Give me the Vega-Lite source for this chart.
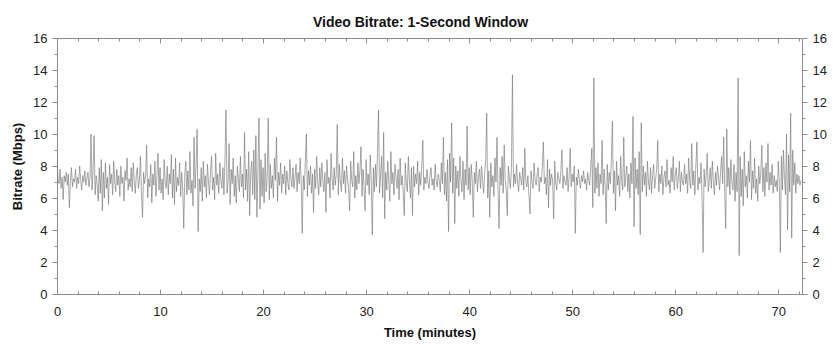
{
"$schema": "https://vega.github.io/schema/vega-lite/v6.json",
"autosize": {"type": "none"},
"padding": {"left": 57, "top": 38, "right": 38, "bottom": 58},
"width": 745,
"height": 256,
"background": "white",
"title": {"text": "Video Bitrate: 1-Second Window", "font": "Liberation Sans", "fontSize": 14, "fontWeight": "bold", "color": "#111111", "anchor": "middle", "dx": -9, "dy": 20, "offset": 11, "baseline": "alphabetic"},
"config": {
  "view": {"stroke": null},
  "axis": {"grid": false, "domainColor": "#8c8c8c", "tickColor": "#8c8c8c", "labelColor": "#222222", "labelFont": "Liberation Sans", "labelFontSize": 13, "titleFont": "Liberation Sans", "titleFontSize": 13, "titleFontWeight": "bold", "titleColor": "#111111", "labelFlush": false, "labelOverlap": false, "labelBound": false}
},
"data": {"values": [
{"t":0,"b":8.6},{"t":0.1,"b":7.2},{"t":0.2,"b":6.9},{"t":0.3,"b":7.8},{"t":0.4,"b":6.6},{"t":0.5,"b":7.3},{"t":0.6,"b":5.9},{"t":0.7,"b":7.4},{"t":0.8,"b":7.0},{"t":0.9,"b":7.6},
{"t":1,"b":6.8},{"t":1.1,"b":7.5},{"t":1.2,"b":5.4},{"t":1.3,"b":7.1},{"t":1.4,"b":7.9},{"t":1.5,"b":6.7},{"t":1.6,"b":7.2},{"t":1.7,"b":7.0},{"t":1.8,"b":7.8},{"t":1.9,"b":6.6},
{"t":2,"b":7.3},{"t":2.1,"b":6.9},{"t":2.2,"b":8.0},{"t":2.3,"b":7.1},{"t":2.4,"b":6.5},{"t":2.5,"b":7.4},{"t":2.6,"b":7.0},{"t":2.7,"b":7.7},{"t":2.8,"b":6.8},{"t":2.9,"b":7.2},
{"t":3,"b":7.6},{"t":3.1,"b":6.7},{"t":3.2,"b":7.3},{"t":3.3,"b":10.0},{"t":3.4,"b":6.5},{"t":3.5,"b":7.8},{"t":3.6,"b":9.9},{"t":3.7,"b":6.2},{"t":3.8,"b":7.4},{"t":3.9,"b":6.8},
{"t":4,"b":5.8},{"t":4.1,"b":7.9},{"t":4.2,"b":6.3},{"t":4.3,"b":8.4},{"t":4.4,"b":5.2},{"t":4.5,"b":7.6},{"t":4.6,"b":6.0},{"t":4.7,"b":8.2},{"t":4.8,"b":6.6},{"t":4.9,"b":7.3},
{"t":5,"b":5.6},{"t":5.1,"b":8.1},{"t":5.2,"b":6.9},{"t":5.3,"b":7.5},{"t":5.4,"b":6.2},{"t":5.5,"b":8.3},{"t":5.6,"b":7.0},{"t":5.7,"b":6.4},{"t":5.8,"b":7.8},{"t":5.9,"b":6.8},
{"t":6,"b":7.4},{"t":6.1,"b":6.1},{"t":6.2,"b":8.0},{"t":6.3,"b":6.9},{"t":6.4,"b":7.3},{"t":6.5,"b":5.8},{"t":6.6,"b":7.7},{"t":6.7,"b":7.1},{"t":6.8,"b":8.5},{"t":6.9,"b":6.5},
{"t":7,"b":7.2},{"t":7.1,"b":6.7},{"t":7.2,"b":7.9},{"t":7.3,"b":6.4},{"t":7.4,"b":8.2},{"t":7.5,"b":7.0},{"t":7.6,"b":6.3},{"t":7.7,"b":7.5},{"t":7.8,"b":7.9},{"t":7.9,"b":6.6},
{"t":8,"b":7.1},{"t":8.1,"b":8.6},{"t":8.2,"b":6.2},{"t":8.3,"b":4.8},{"t":8.4,"b":7.6},{"t":8.5,"b":6.9},{"t":8.6,"b":7.4},{"t":8.7,"b":9.3},{"t":8.8,"b":6.0},{"t":8.9,"b":7.2},
{"t":9,"b":6.7},{"t":9.1,"b":8.1},{"t":9.2,"b":5.7},{"t":9.3,"b":7.5},{"t":9.4,"b":6.8},{"t":9.5,"b":8.3},{"t":9.6,"b":6.1},{"t":9.7,"b":7.4},{"t":9.8,"b":8.8},{"t":9.9,"b":6.5},
{"t":10,"b":7.9},{"t":10.1,"b":6.3},{"t":10.2,"b":7.2},{"t":10.3,"b":5.9},{"t":10.4,"b":8.4},{"t":10.5,"b":7.0},{"t":10.6,"b":6.6},{"t":10.7,"b":8.0},{"t":10.8,"b":6.2},{"t":10.9,"b":7.5},
{"t":11,"b":6.9},{"t":11.1,"b":8.7},{"t":11.2,"b":6.0},{"t":11.3,"b":7.8},{"t":11.4,"b":5.6},{"t":11.5,"b":8.5},{"t":11.6,"b":6.4},{"t":11.7,"b":7.3},{"t":11.8,"b":6.8},{"t":11.9,"b":8.2},
{"t":12,"b":6.1},{"t":12.1,"b":7.6},{"t":12.2,"b":6.7},{"t":12.3,"b":4.1},{"t":12.4,"b":7.4},{"t":12.5,"b":8.3},{"t":12.6,"b":6.2},{"t":12.7,"b":7.7},{"t":12.8,"b":6.5},{"t":12.9,"b":8.9},
{"t":13,"b":6.3},{"t":13.1,"b":7.1},{"t":13.2,"b":5.5},{"t":13.3,"b":9.8},{"t":13.4,"b":6.6},{"t":13.5,"b":8.0},{"t":13.6,"b":10.3},{"t":13.7,"b":3.9},{"t":13.8,"b":7.2},{"t":13.9,"b":6.4},
{"t":14,"b":7.9},{"t":14.1,"b":5.8},{"t":14.2,"b":8.3},{"t":14.3,"b":6.7},{"t":14.4,"b":7.4},{"t":14.5,"b":6.0},{"t":14.6,"b":8.1},{"t":14.7,"b":7.0},{"t":14.8,"b":6.2},{"t":14.9,"b":7.7},
{"t":15,"b":8.6},{"t":15.1,"b":6.5},{"t":15.2,"b":7.3},{"t":15.3,"b":5.9},{"t":15.4,"b":8.8},{"t":15.5,"b":6.8},{"t":15.6,"b":7.5},{"t":15.7,"b":6.3},{"t":15.8,"b":8.2},{"t":15.9,"b":7.1},
{"t":16,"b":6.6},{"t":16.1,"b":7.9},{"t":16.2,"b":6.2},{"t":16.3,"b":8.4},{"t":16.4,"b":11.5},{"t":16.5,"b":6.3},{"t":16.6,"b":7.0},{"t":16.7,"b":9.4},{"t":16.8,"b":5.6},{"t":16.9,"b":7.8},
{"t":17,"b":6.9},{"t":17.1,"b":8.5},{"t":17.2,"b":6.1},{"t":17.3,"b":7.4},{"t":17.4,"b":5.7},{"t":17.5,"b":8.0},{"t":17.6,"b":7.2},{"t":17.7,"b":6.4},{"t":17.8,"b":8.6},{"t":17.9,"b":6.7},
{"t":18,"b":7.5},{"t":18.1,"b":6.0},{"t":18.2,"b":10.1},{"t":18.3,"b":6.5},{"t":18.4,"b":7.8},{"t":18.5,"b":5.8},{"t":18.6,"b":8.9},{"t":18.7,"b":4.9},{"t":18.8,"b":7.6},{"t":18.9,"b":8.3},
{"t":19,"b":6.2},{"t":19.1,"b":9.0},{"t":19.2,"b":5.9},{"t":19.3,"b":9.9},{"t":19.4,"b":4.8},{"t":19.5,"b":7.7},{"t":19.6,"b":11.0},{"t":19.7,"b":5.3},{"t":19.8,"b":8.4},{"t":19.9,"b":6.1},
{"t":20,"b":7.9},{"t":20.1,"b":5.7},{"t":20.2,"b":8.8},{"t":20.3,"b":6.4},{"t":20.4,"b":7.3},{"t":20.5,"b":11.0},{"t":20.6,"b":5.9},{"t":20.7,"b":8.1},{"t":20.8,"b":6.6},{"t":20.9,"b":7.4},
{"t":21,"b":6.0},{"t":21.1,"b":8.5},{"t":21.2,"b":7.1},{"t":21.3,"b":9.8},{"t":21.4,"b":5.8},{"t":21.5,"b":7.6},{"t":21.6,"b":6.8},{"t":21.7,"b":8.2},{"t":21.8,"b":6.3},{"t":21.9,"b":7.5},
{"t":22,"b":6.9},{"t":22.1,"b":8.0},{"t":22.2,"b":6.2},{"t":22.3,"b":7.7},{"t":22.4,"b":7.0},{"t":22.5,"b":6.5},{"t":22.6,"b":8.4},{"t":22.7,"b":7.2},{"t":22.8,"b":6.7},{"t":22.9,"b":7.9},
{"t":23,"b":6.6},{"t":23.1,"b":7.3},{"t":23.2,"b":8.1},{"t":23.3,"b":6.4},{"t":23.4,"b":7.6},{"t":23.5,"b":6.9},{"t":23.6,"b":8.5},{"t":23.7,"b":7.0},{"t":23.8,"b":3.8},{"t":23.9,"b":7.4},
{"t":24,"b":6.5},{"t":24.1,"b":8.3},{"t":24.2,"b":10.0},{"t":24.3,"b":6.1},{"t":24.4,"b":7.7},{"t":24.5,"b":6.8},{"t":24.6,"b":8.0},{"t":24.7,"b":6.3},{"t":24.8,"b":7.5},{"t":24.9,"b":5.1},
{"t":25,"b":7.8},{"t":25.1,"b":6.6},{"t":25.2,"b":8.6},{"t":25.3,"b":7.0},{"t":25.4,"b":6.2},{"t":25.5,"b":7.9},{"t":25.6,"b":6.7},{"t":25.7,"b":8.2},{"t":25.8,"b":7.1},{"t":25.9,"b":6.4},
{"t":26,"b":7.6},{"t":26.1,"b":5.1},{"t":26.2,"b":8.4},{"t":26.3,"b":6.9},{"t":26.4,"b":7.3},{"t":26.5,"b":6.0},{"t":26.6,"b":8.8},{"t":26.7,"b":7.2},{"t":26.8,"b":6.5},{"t":26.9,"b":7.9},
{"t":27,"b":6.8},{"t":27.1,"b":7.5},{"t":27.2,"b":10.6},{"t":27.3,"b":6.2},{"t":27.4,"b":8.1},{"t":27.5,"b":7.0},{"t":27.6,"b":6.4},{"t":27.7,"b":8.5},{"t":27.8,"b":6.9},{"t":27.9,"b":7.7},
{"t":28,"b":6.3},{"t":28.1,"b":8.0},{"t":28.2,"b":7.2},{"t":28.3,"b":6.6},{"t":28.4,"b":5.2},{"t":28.5,"b":8.3},{"t":28.6,"b":7.1},{"t":28.7,"b":6.7},{"t":28.8,"b":8.9},{"t":28.9,"b":6.0},
{"t":29,"b":7.4},{"t":29.1,"b":6.5},{"t":29.2,"b":8.2},{"t":29.3,"b":6.9},{"t":29.4,"b":7.7},{"t":29.5,"b":9.2},{"t":29.6,"b":6.1},{"t":29.7,"b":7.8},{"t":29.8,"b":6.6},{"t":29.9,"b":5.2},
{"t":30,"b":8.4},{"t":30.1,"b":6.8},{"t":30.2,"b":7.5},{"t":30.3,"b":6.2},{"t":30.4,"b":8.7},{"t":30.5,"b":7.0},{"t":30.6,"b":3.7},{"t":30.7,"b":7.9},{"t":30.8,"b":6.4},{"t":30.9,"b":8.1},
{"t":31,"b":6.7},{"t":31.1,"b":8.8},{"t":31.2,"b":11.5},{"t":31.3,"b":6.3},{"t":31.4,"b":7.4},{"t":31.5,"b":8.6},{"t":31.6,"b":6.0},{"t":31.7,"b":10.1},{"t":31.8,"b":4.7},{"t":31.9,"b":7.6},
{"t":32,"b":6.5},{"t":32.1,"b":8.3},{"t":32.2,"b":7.0},{"t":32.3,"b":5.8},{"t":32.4,"b":8.9},{"t":32.5,"b":6.9},{"t":32.6,"b":7.6},{"t":32.7,"b":6.2},{"t":32.8,"b":8.1},{"t":32.9,"b":7.3},
{"t":33,"b":6.6},{"t":33.1,"b":7.8},{"t":33.2,"b":5.9},{"t":33.3,"b":8.5},{"t":33.4,"b":6.8},{"t":33.5,"b":7.4},{"t":33.6,"b":6.3},{"t":33.7,"b":4.9},{"t":33.8,"b":8.2},{"t":33.9,"b":7.0},
{"t":34,"b":6.4},{"t":34.1,"b":8.6},{"t":34.2,"b":7.1},{"t":34.3,"b":6.0},{"t":34.4,"b":7.9},{"t":34.5,"b":4.9},{"t":34.6,"b":8.0},{"t":34.7,"b":6.7},{"t":34.8,"b":7.5},{"t":34.9,"b":6.9},
{"t":35,"b":8.3},{"t":35.1,"b":6.2},{"t":35.2,"b":7.6},{"t":35.3,"b":6.8},{"t":35.4,"b":8.0},{"t":35.5,"b":9.6},{"t":35.6,"b":6.5},{"t":35.7,"b":7.3},{"t":35.8,"b":6.9},{"t":35.9,"b":7.8},
{"t":36,"b":7.0},{"t":36.1,"b":6.6},{"t":36.2,"b":7.4},{"t":36.3,"b":7.9},{"t":36.4,"b":6.8},{"t":36.5,"b":7.2},{"t":36.6,"b":6.5},{"t":36.7,"b":8.1},{"t":36.8,"b":7.0},{"t":36.9,"b":6.7},
{"t":37,"b":7.5},{"t":37.1,"b":7.1},{"t":37.2,"b":6.4},{"t":37.3,"b":8.2},{"t":37.4,"b":6.9},{"t":37.5,"b":9.8},{"t":37.6,"b":6.2},{"t":37.7,"b":7.6},{"t":37.8,"b":5.8},{"t":37.9,"b":8.4},
{"t":38,"b":3.9},{"t":38.1,"b":8.8},{"t":38.2,"b":7.0},{"t":38.3,"b":10.7},{"t":38.4,"b":6.3},{"t":38.5,"b":8.5},{"t":38.6,"b":4.4},{"t":38.7,"b":8.0},{"t":38.8,"b":6.6},{"t":38.9,"b":7.7},
{"t":39,"b":6.1},{"t":39.1,"b":8.6},{"t":39.2,"b":7.2},{"t":39.3,"b":6.4},{"t":39.4,"b":8.3},{"t":39.5,"b":5.9},{"t":39.6,"b":7.8},{"t":39.7,"b":6.8},{"t":39.8,"b":10.5},{"t":39.9,"b":6.5},
{"t":40,"b":7.9},{"t":40.1,"b":6.2},{"t":40.2,"b":8.1},{"t":40.3,"b":7.0},{"t":40.4,"b":4.8},{"t":40.5,"b":7.6},{"t":40.6,"b":6.9},{"t":40.7,"b":8.3},{"t":40.8,"b":6.4},{"t":40.9,"b":7.3},
{"t":41,"b":7.8},{"t":41.1,"b":6.6},{"t":41.2,"b":8.0},{"t":41.3,"b":7.1},{"t":41.4,"b":6.3},{"t":41.5,"b":7.5},{"t":41.6,"b":8.4},{"t":41.7,"b":11.3},{"t":41.8,"b":6.0},{"t":41.9,"b":7.7},
{"t":42,"b":4.8},{"t":42.1,"b":8.2},{"t":42.2,"b":6.7},{"t":42.3,"b":7.4},{"t":42.4,"b":6.1},{"t":42.5,"b":8.5},{"t":42.6,"b":7.0},{"t":42.7,"b":9.8},{"t":42.8,"b":6.4},{"t":42.9,"b":4.1},
{"t":43,"b":7.9},{"t":43.1,"b":6.8},{"t":43.2,"b":8.6},{"t":43.3,"b":6.3},{"t":43.4,"b":9.3},{"t":43.5,"b":7.1},{"t":43.6,"b":6.5},{"t":43.7,"b":4.9},{"t":43.8,"b":8.0},{"t":43.9,"b":7.2},
{"t":44,"b":6.6},{"t":44.1,"b":7.8},{"t":44.2,"b":13.7},{"t":44.3,"b":6.7},{"t":44.4,"b":7.5},{"t":44.5,"b":6.9},{"t":44.6,"b":8.1},{"t":44.7,"b":7.0},{"t":44.8,"b":6.4},{"t":44.9,"b":7.6},
{"t":45,"b":7.2},{"t":45.1,"b":6.8},{"t":45.2,"b":7.9},{"t":45.3,"b":6.5},{"t":45.4,"b":9.1},{"t":45.5,"b":7.0},{"t":45.6,"b":6.7},{"t":45.7,"b":7.4},{"t":45.8,"b":6.2},{"t":45.9,"b":5.0},
{"t":46,"b":7.7},{"t":46.1,"b":7.0},{"t":46.2,"b":6.6},{"t":46.3,"b":8.2},{"t":46.4,"b":7.1},{"t":46.5,"b":6.8},{"t":46.6,"b":7.5},{"t":46.7,"b":7.9},{"t":46.8,"b":6.4},{"t":46.9,"b":7.3},
{"t":47,"b":7.0},{"t":47.1,"b":8.0},{"t":47.2,"b":9.5},{"t":47.3,"b":6.9},{"t":47.4,"b":7.3},{"t":47.5,"b":6.2},{"t":47.6,"b":8.4},{"t":47.7,"b":5.4},{"t":47.8,"b":7.8},{"t":47.9,"b":6.8},
{"t":48,"b":7.5},{"t":48.1,"b":7.1},{"t":48.2,"b":4.7},{"t":48.3,"b":8.3},{"t":48.4,"b":7.0},{"t":48.5,"b":6.5},{"t":48.6,"b":7.6},{"t":48.7,"b":7.2},{"t":48.8,"b":6.9},{"t":48.9,"b":7.7},
{"t":49,"b":9.0},{"t":49.1,"b":6.6},{"t":49.2,"b":7.4},{"t":49.3,"b":7.0},{"t":49.4,"b":6.8},{"t":49.5,"b":7.9},{"t":49.6,"b":6.4},{"t":49.7,"b":7.3},{"t":49.8,"b":9.1},{"t":49.9,"b":6.7},
{"t":50,"b":7.5},{"t":50.1,"b":7.0},{"t":50.2,"b":8.0},{"t":50.3,"b":3.8},{"t":50.4,"b":7.3},{"t":50.5,"b":6.8},{"t":50.6,"b":7.8},{"t":50.7,"b":7.1},{"t":50.8,"b":6.6},{"t":50.9,"b":7.4},
{"t":51,"b":7.0},{"t":51.1,"b":7.7},{"t":51.2,"b":6.9},{"t":51.3,"b":7.2},{"t":51.4,"b":6.5},{"t":51.5,"b":7.6},{"t":51.6,"b":7.1},{"t":51.7,"b":6.8},{"t":51.8,"b":8.0},{"t":51.9,"b":9.1},
{"t":52,"b":5.4},{"t":52.1,"b":13.5},{"t":52.2,"b":6.3},{"t":52.3,"b":7.9},{"t":52.4,"b":6.6},{"t":52.5,"b":8.2},{"t":52.6,"b":6.1},{"t":52.7,"b":7.5},{"t":52.8,"b":6.9},{"t":52.9,"b":9.6},
{"t":53,"b":6.2},{"t":53.1,"b":7.8},{"t":53.2,"b":6.7},{"t":53.3,"b":4.4},{"t":53.4,"b":8.1},{"t":53.5,"b":6.5},{"t":53.6,"b":7.6},{"t":53.7,"b":6.9},{"t":53.8,"b":8.4},{"t":53.9,"b":10.8},
{"t":54,"b":6.3},{"t":54.1,"b":7.7},{"t":54.2,"b":5.2},{"t":54.3,"b":8.3},{"t":54.4,"b":6.8},{"t":54.5,"b":7.4},{"t":54.6,"b":6.1},{"t":54.7,"b":8.6},{"t":54.8,"b":7.0},{"t":54.9,"b":6.5},
{"t":55,"b":9.8},{"t":55.1,"b":6.7},{"t":55.2,"b":7.3},{"t":55.3,"b":8.0},{"t":55.4,"b":6.4},{"t":55.5,"b":7.5},{"t":55.6,"b":6.0},{"t":55.7,"b":8.2},{"t":55.8,"b":6.9},{"t":55.9,"b":11.1},
{"t":56,"b":4.2},{"t":56.1,"b":8.5},{"t":56.2,"b":6.6},{"t":56.3,"b":7.8},{"t":56.4,"b":6.2},{"t":56.5,"b":8.9},{"t":56.6,"b":3.7},{"t":56.7,"b":10.7},{"t":56.8,"b":6.4},{"t":56.9,"b":8.0},
{"t":57,"b":6.8},{"t":57.1,"b":7.6},{"t":57.2,"b":6.1},{"t":57.3,"b":8.3},{"t":57.4,"b":7.0},{"t":57.5,"b":6.5},{"t":57.6,"b":7.9},{"t":57.7,"b":6.3},{"t":57.8,"b":7.4},{"t":57.9,"b":8.1},
{"t":58,"b":6.6},{"t":58.1,"b":7.2},{"t":58.2,"b":7.8},{"t":58.3,"b":9.6},{"t":58.4,"b":6.4},{"t":58.5,"b":7.5},{"t":58.6,"b":6.9},{"t":58.7,"b":8.0},{"t":58.8,"b":6.2},{"t":58.9,"b":7.3},
{"t":59,"b":7.7},{"t":59.1,"b":6.7},{"t":59.2,"b":8.4},{"t":59.3,"b":6.8},{"t":59.4,"b":7.1},{"t":59.5,"b":6.3},{"t":59.6,"b":7.9},{"t":59.7,"b":7.0},{"t":59.8,"b":8.6},{"t":59.9,"b":6.5},
{"t":60,"b":7.4},{"t":60.1,"b":7.9},{"t":60.2,"b":6.6},{"t":60.3,"b":7.2},{"t":60.4,"b":8.3},{"t":60.5,"b":6.4},{"t":60.6,"b":7.6},{"t":60.7,"b":7.0},{"t":60.8,"b":6.8},{"t":60.9,"b":8.1},
{"t":61,"b":6.9},{"t":61.1,"b":7.5},{"t":61.2,"b":6.3},{"t":61.3,"b":8.5},{"t":61.4,"b":7.1},{"t":61.5,"b":6.6},{"t":61.6,"b":9.4},{"t":61.7,"b":6.8},{"t":61.8,"b":7.7},{"t":61.9,"b":6.2},
{"t":62,"b":8.0},{"t":62.1,"b":9.5},{"t":62.2,"b":6.5},{"t":62.3,"b":7.3},{"t":62.4,"b":6.9},{"t":62.5,"b":8.2},{"t":62.6,"b":6.0},{"t":62.7,"b":2.6},{"t":62.8,"b":7.8},{"t":62.9,"b":6.7},
{"t":63,"b":7.4},{"t":63.1,"b":8.8},{"t":63.2,"b":6.4},{"t":63.3,"b":7.1},{"t":63.4,"b":7.9},{"t":63.5,"b":6.6},{"t":63.6,"b":8.3},{"t":63.7,"b":7.0},{"t":63.8,"b":6.2},{"t":63.9,"b":7.6},
{"t":64,"b":6.8},{"t":64.1,"b":8.0},{"t":64.2,"b":7.2},{"t":64.3,"b":6.5},{"t":64.4,"b":7.7},{"t":64.5,"b":8.6},{"t":64.6,"b":6.9},{"t":64.7,"b":9.8},{"t":64.8,"b":6.3},{"t":64.9,"b":4.1},
{"t":65,"b":10.3},{"t":65.1,"b":6.7},{"t":65.2,"b":7.9},{"t":65.3,"b":6.2},{"t":65.4,"b":8.4},{"t":65.5,"b":7.0},{"t":65.6,"b":6.5},{"t":65.7,"b":8.1},{"t":65.8,"b":5.8},{"t":65.9,"b":7.6},
{"t":66,"b":6.4},{"t":66.1,"b":13.5},{"t":66.2,"b":2.4},{"t":66.3,"b":8.6},{"t":66.4,"b":6.1},{"t":66.5,"b":7.8},{"t":66.6,"b":5.5},{"t":66.7,"b":8.9},{"t":66.8,"b":6.7},{"t":66.9,"b":7.4},
{"t":67,"b":6.0},{"t":67.1,"b":8.3},{"t":67.2,"b":7.0},{"t":67.3,"b":9.6},{"t":67.4,"b":5.9},{"t":67.5,"b":7.7},{"t":67.6,"b":6.6},{"t":67.7,"b":8.5},{"t":67.8,"b":6.3},{"t":67.9,"b":7.2},
{"t":68,"b":5.8},{"t":68.1,"b":8.0},{"t":68.2,"b":6.9},{"t":68.3,"b":7.5},{"t":68.4,"b":9.3},{"t":68.5,"b":6.4},{"t":68.6,"b":7.9},{"t":68.7,"b":6.1},{"t":68.8,"b":8.2},{"t":68.9,"b":7.0},
{"t":69,"b":9.4},{"t":69.1,"b":6.5},{"t":69.2,"b":7.6},{"t":69.3,"b":6.8},{"t":69.4,"b":8.1},{"t":69.5,"b":6.3},{"t":69.6,"b":7.4},{"t":69.7,"b":6.7},{"t":69.8,"b":7.1},{"t":69.9,"b":6.4},
{"t":70,"b":8.3},{"t":70.1,"b":6.9},{"t":70.2,"b":2.6},{"t":70.3,"b":8.6},{"t":70.4,"b":6.5},{"t":70.5,"b":9.0},{"t":70.6,"b":7.2},{"t":70.7,"b":6.2},{"t":70.8,"b":10.0},{"t":70.9,"b":4.0},
{"t":71,"b":8.7},{"t":71.1,"b":6.4},{"t":71.2,"b":11.3},{"t":71.3,"b":3.5},{"t":71.4,"b":9.0},{"t":71.5,"b":6.8},{"t":71.6,"b":8.2},{"t":71.7,"b":6.3},{"t":71.8,"b":7.5},{"t":71.9,"b":6.9},
{"t":72,"b":7.4},{"t":72.1,"b":6.8},{"t":72.2,"b":7.1}
]},
"layer": [
  {
    "mark": {"type": "line", "color": "#787878", "strokeWidth": 0.65, "clip": true},
    "encoding": {
      "x": {"field": "t", "type": "quantitative", "scale": {"domain": [0, 72.3], "nice": false, "zero": false},
        "axis": {"orient": "bottom", "title": "Time (minutes)", "values": [0,2,4,6,8,10,12,14,16,18,20,22,24,26,28,30,32,34,36,38,40,42,44,46,48,50,52,54,56,58,60,62,64,66,68,70,72],
          "format": "d",
          "labelExpr": "datum.value % 10 === 0 ? datum.label : ''",
          "tickSize": {"condition": {"test": "datum.value % 10 === 0", "value": -5}, "value": -3},
          "labelPadding": 16, "titlePadding": 6}},
      "y": {"field": "b", "type": "quantitative", "scale": {"domain": [0, 16], "nice": false, "zero": false},
        "axis": {"orient": "left", "title": "Bitrate (Mbps)", "values": [0,0.5,1,1.5,2,2.5,3,3.5,4,4.5,5,5.5,6,6.5,7,7.5,8,8.5,9,9.5,10,10.5,11,11.5,12,12.5,13,13.5,14,14.5,15,15.5,16],
          "format": "d",
          "labelExpr": "datum.value % 2 === 0 ? datum.label : ''",
          "tickSize": {"condition": {"test": "datum.value % 2 === 0", "value": 5}, "value": 3},
          "labelPadding": 5, "titlePadding": 8}}
    }
  },
  {
    "mark": {"type": "line", "opacity": 0},
    "encoding": {
      "x": {"field": "t", "type": "quantitative",
        "axis": {"orient": "top", "title": null, "labels": false, "values": [0,2,4,6,8,10,12,14,16,18,20,22,24,26,28,30,32,34,36,38,40,42,44,46,48,50,52,54,56,58,60,62,64,66,68,70,72],
          "tickSize": {"condition": {"test": "datum.value % 10 === 0", "value": -5}, "value": -3}}},
      "y": {"field": "b", "type": "quantitative",
        "axis": {"orient": "right", "title": null, "values": [0,0.5,1,1.5,2,2.5,3,3.5,4,4.5,5,5.5,6,6.5,7,7.5,8,8.5,9,9.5,10,10.5,11,11.5,12,12.5,13,13.5,14,14.5,15,15.5,16],
          "format": "d",
          "labelExpr": "datum.value % 2 === 0 ? datum.label : ''",
          "tickSize": {"condition": {"test": "datum.value % 2 === 0", "value": 5}, "value": 3},
          "labelPadding": 5}}
    }
  }
],
"resolve": {"scale": {"x": "shared", "y": "shared"}, "axis": {"x": "independent", "y": "independent"}}
}
